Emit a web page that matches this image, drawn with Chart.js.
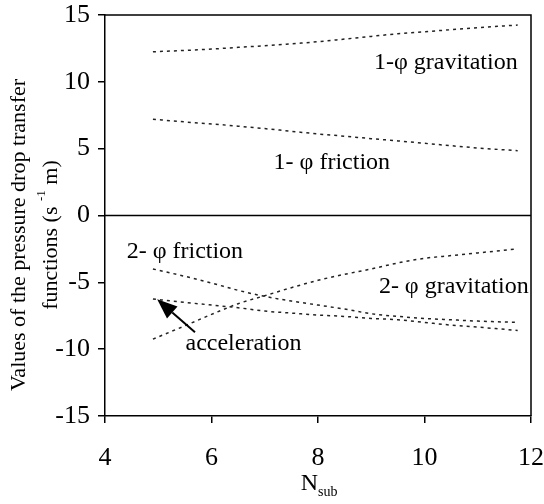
<!DOCTYPE html>
<html>
<head>
<meta charset="utf-8">
<script src="https://cdn.jsdelivr.net/npm/chart.js@4.4.1/dist/chart.umd.min.js"></script>
<style>
  html, body { margin: 0; padding: 0; background: #fff; }
  #wrap { width: 544px; height: 504px; }
</style>
</head>
<body>
<div id="wrap"><canvas id="chart" width="544" height="504"></canvas></div>
<script>
// number of subdivisions
const nSub = [4.9, 5.5, 6, 6.5, 7, 7.5, 8, 8.5, 9, 9.5, 10, 10.5, 11, 11.75];

// pressure drop transfer functions (s^-1 m)
const grav1 = [12.25, 12.35, 12.45, 12.58, 12.7, 12.85, 13.0, 13.2, 13.4, 13.6, 13.75, 13.9, 14.05, 14.25];
const fric1 = [7.2, 7.0, 6.85, 6.68, 6.5, 6.3, 6.1, 5.93, 5.75, 5.58, 5.4, 5.22, 5.05, 4.85];
const fric2 = [-4.0, -4.55, -5.05, -5.6, -6.05, -6.4, -6.7, -7.0, -7.35, -7.55, -7.7, -7.8, -7.9, -8.0];
const accel = [-6.25, -6.5, -6.7, -6.9, -7.15, -7.3, -7.45, -7.55, -7.7, -7.8, -8.0, -8.2, -8.35, -8.6];
const grav2 = [-9.25, -8.25, -7.4, -6.6, -6.0, -5.4, -4.85, -4.4, -4.0, -3.55, -3.2, -3.0, -2.8, -2.5];

const curveNames = ['1-\u03c6 gravitation', '1- \u03c6 friction', '2- \u03c6 friction', '2- \u03c6 gravitation', 'acceleration'];

const xTicks = [4, 6, 8, 10, 12];
const yTicks = [-15, -10, -5, 0, 5, 10, 15];

const serif = '"Liberation Serif", "Times New Roman", serif';

function series(values) {
  return {
    data: nSub.map((n, i) => ({ x: n, y: values[i] })),
    borderColor: '#222',
    borderWidth: 1.5,
    borderDash: [3, 4],
    pointRadius: 0,
    fill: false,
    cubicInterpolationMode: 'monotone'
  };
}

// keep the plot box where the layout padding puts it
function fixBox(s, size) {
  if (s.isHorizontal()) s.height = size; else s.width = size;
  s.paddingLeft = s.paddingRight = s.paddingTop = s.paddingBottom = 0;
}

// frame, zero line, curve names, arrow and axis titles
const decorations = {
  id: 'decorations',
  afterDraw(chart) {
    const { ctx, chartArea: a, scales: { x, y } } = chart;
    const px = v => x.getPixelForValue(v);
    const py = v => y.getPixelForValue(v);
    ctx.save();

    ctx.strokeStyle = '#000';
    ctx.lineWidth = 1.5;
    ctx.beginPath();
    ctx.moveTo(a.left, a.top);
    ctx.lineTo(a.right, a.top);
    ctx.lineTo(a.right, a.bottom);
    ctx.moveTo(a.left, py(0));
    ctx.lineTo(a.right, py(0));
    ctx.stroke();

    ctx.fillStyle = '#000';
    ctx.font = '24px ' + serif;
    ctx.textAlign = 'center';
    ctx.textBaseline = 'middle';
    const spots = [[10.4, 11.4], [8.26, 3.95], [5.5, -2.7], [10.55, -5.3], [6.6, -9.6]];
    curveNames.forEach((t, i) => ctx.fillText(t, px(spots[i][0]), py(spots[i][1])));

    // arrow pointing at the acceleration curve
    const x0 = px(5.69), y0 = py(-8.73), x1 = px(4.98), y1 = py(-6.27);
    const ang = Math.atan2(y1 - y0, x1 - x0);
    const head = 20, half = 8;
    const bx = x1 - head * Math.cos(ang), by = y1 - head * Math.sin(ang);
    ctx.lineWidth = 2;
    ctx.beginPath();
    ctx.moveTo(x0, y0);
    ctx.lineTo(bx, by);
    ctx.stroke();
    ctx.beginPath();
    ctx.moveTo(x1, y1);
    ctx.lineTo(bx + half * Math.sin(ang), by - half * Math.cos(ang));
    ctx.lineTo(bx - half * Math.sin(ang), by + half * Math.cos(ang));
    ctx.closePath();
    ctx.fill();

    // y axis title, two rotated lines
    ctx.save();
    ctx.translate(19, 235);
    ctx.rotate(-Math.PI / 2);
    ctx.font = '22px ' + serif;
    ctx.fillText('Values of the pressure drop transfer', 0, 0);
    ctx.restore();

    ctx.save();
    ctx.translate(51, 235);
    ctx.rotate(-Math.PI / 2);
    ctx.textAlign = 'left';
    const p1 = 'functions (s ', p2 = '-1', p3 = ' m)';
    ctx.font = '22px ' + serif;
    const w1 = ctx.measureText(p1).width, w3 = ctx.measureText(p3).width;
    ctx.font = '13px ' + serif;
    const w2 = ctx.measureText(p2).width;
    let cx = -(w1 + w2 + w3) / 2;
    ctx.font = '22px ' + serif;
    ctx.fillText(p1, cx, 0);
    cx += w1;
    ctx.font = '13px ' + serif;
    ctx.fillText(p2, cx, -9);
    cx += w2;
    ctx.font = '22px ' + serif;
    ctx.fillText(p3, cx, 0);
    ctx.restore();

    // x axis title N_sub
    ctx.font = '24px ' + serif;
    ctx.textAlign = 'right';
    ctx.fillText('N', 318, 484);
    ctx.textAlign = 'left';
    ctx.font = '14px ' + serif;
    ctx.fillText('sub', 318, 492);

    ctx.restore();
  }
};

new Chart(document.getElementById('chart'), {
  type: 'line',
  data: { datasets: [grav1, fric1, fric2, accel, grav2].map(series) },
  options: {
    responsive: false,
    animation: false,
    layout: { padding: { top: 15, right: 13, left: 0, bottom: 0 } },
    plugins: { legend: { display: false }, tooltip: { enabled: false } },
    scales: {
      x: {
        type: 'linear',
        min: 4,
        max: 12,
        afterBuildTicks: s => { s.ticks = xTicks.map(v => ({ value: v })); },
        afterFit: s => fixBox(s, 88),
        grid: { drawOnChartArea: false, color: '#000', lineWidth: 1.5, tickLength: 7 },
        border: { color: '#000', width: 1.5 },
        ticks: { color: '#000', padding: 20, maxRotation: 0, font: { family: serif, size: 26 } }
      },
      y: {
        min: -15,
        max: 15,
        afterBuildTicks: s => { s.ticks = yTicks.map(v => ({ value: v })); },
        afterFit: s => fixBox(s, 105),
        grid: { drawOnChartArea: false, color: '#000', lineWidth: 1.5, tickLength: 7 },
        border: { color: '#000', width: 1.5 },
        ticks: { color: '#000', padding: 8, font: { family: serif, size: 26 } }
      }
    }
  },
  plugins: [decorations]
});
</script>
</body>
</html>
